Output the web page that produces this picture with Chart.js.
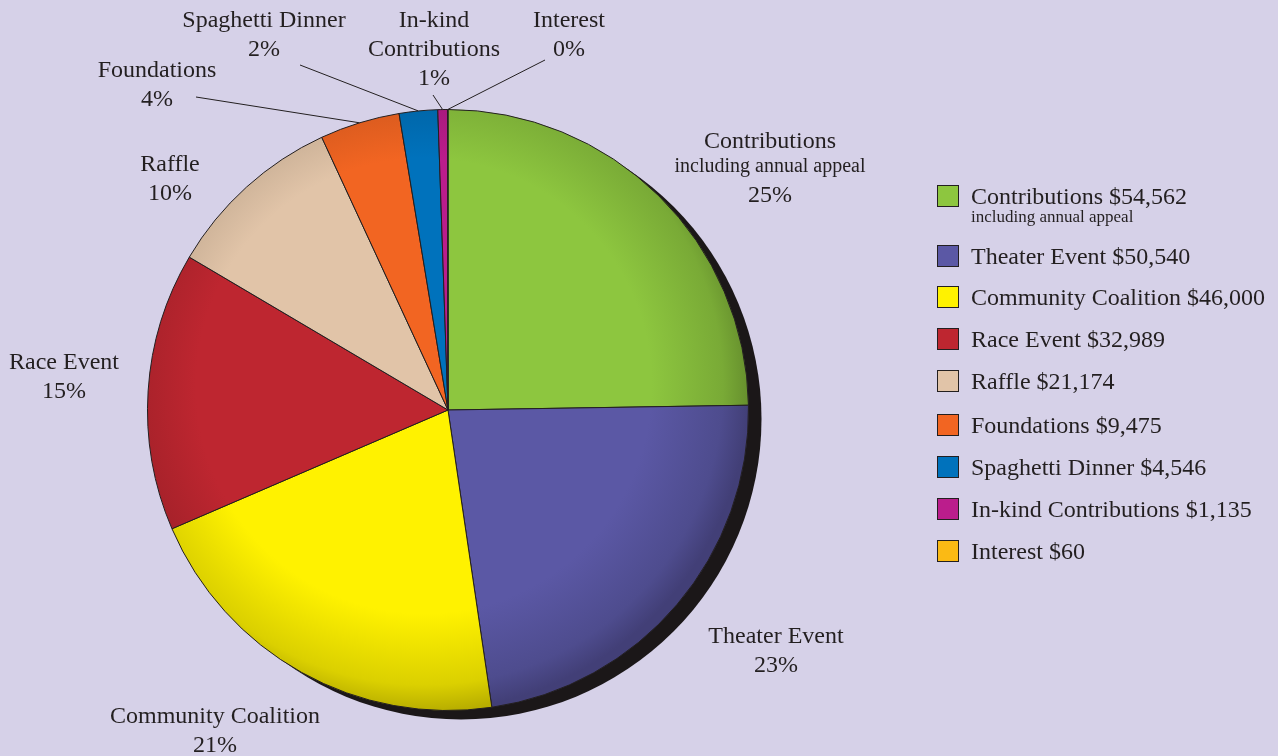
<!DOCTYPE html>
<html>
<head>
<meta charset="utf-8">
<script src="https://cdn.jsdelivr.net/npm/chart.js@4.4.1/dist/chart.umd.min.js"></script>
<style>
  html, body { margin: 0; padding: 0; background: #d6d1e8; }
  #wrap { position: relative; width: 1278px; height: 756px; overflow: hidden; }
  #chart { position: absolute; left: 0; top: 0; }
  #legend { position: absolute; left: 0; top: 0; font-family: "Liberation Serif", "Times New Roman", serif; color: #231f20; }
  .row { position: absolute; left: 937px; white-space: nowrap; }
  .box { position: absolute; left: 0; top: -11px; width: 20px; height: 20px; border: 1.5px solid #231f20; }
  .txt { position: absolute; left: 34px; top: -14px; font-size: 24px; line-height: 28px; }
  .sub { position: absolute; left: 34px; top: 11px; font-size: 17px; line-height: 20px; }
</style>
</head>
<body>
<div id="wrap">
  <canvas id="chart" width="1278" height="756"></canvas>
  <div id="legend"></div>
</div>
<script>
// data
const categories = ['Contributions', 'Theater Event', 'Community Coalition', 'Race Event', 'Raffle',
  'Foundations', 'Spaghetti Dinner', 'In-kind Contributions', 'Interest'];
const amounts = [54562, 50540, 46000, 32989, 21174, 9475, 4546, 1135, 60];
const amountLabels = ['$54,562', '$50,540', '$46,000', '$32,989', '$21,174', '$9,475', '$4,546', '$1,135', '$60'];
const percentLabels = ['25%', '23%', '21%', '15%', '10%', '4%', '2%', '1%', '0%'];
const colors = ['#8dc63f', '#5b58a5', '#fff200', '#be2630', '#e1c4a8', '#f26522', '#0072bc', '#bb1d8c', '#fbba14'];

// label text lines around the pie (first line center x,y; small = subtitle line)
const pieLabels = [
  { x: 770, y: 142, lines: ['Contributions', {small: 'including annual appeal'}, '25%'] },
  { x: 776, y: 637, lines: ['Theater Event', '23%'] },
  { x: 215, y: 717, lines: ['Community Coalition', '21%'] },
  { x: 64, y: 363, lines: ['Race Event', '15%'] },
  { x: 170, y: 165, lines: ['Raffle', '10%'] },
  { x: 157, y: 71, lines: ['Foundations', '4%'], leader: [196, 97] },
  { x: 264, y: 21, lines: ['Spaghetti Dinner', '2%'], leader: [300, 65] },
  { x: 434, y: 21, lines: ['In-kind', 'Contributions', '1%'], leader: [433, 95] },
  { x: 569, y: 21, lines: ['Interest', '0%'], leader: [545, 60] }
];

const FONT = '"Liberation Serif", "Times New Roman", serif';
const INK = '#231f20';

function shade(hex, f) {
  const n = parseInt(hex.slice(1), 16);
  const r = Math.round(((n >> 16) & 255) * f);
  const g = Math.round(((n >> 8) & 255) * f);
  const b = Math.round((n & 255) * f);
  return 'rgb(' + r + ',' + g + ',' + b + ')';
}

// Slice fill: flat colour with darker rim, heavier toward the lower right
function sliceFill(context) {
  const chart = context.chart;
  const area = chart.chartArea;
  const base = colors[context.dataIndex];
  if (!area) return base;
  const cx = (area.left + area.right) / 2;
  const cy = (area.top + area.bottom) / 2;
  const r = Math.min(area.right - area.left, area.bottom - area.top) / 2;
  const g = chart.ctx.createRadialGradient(cx - r * 0.08, cy - r * 0.08, 0, cx - r * 0.08, cy - r * 0.08, r * 1.08);
  g.addColorStop(0, base);
  g.addColorStop(0.7, base);
  g.addColorStop(0.92, shade(base, 0.86));
  g.addColorStop(1, shade(base, 0.72));
  return g;
}

// black drop shadow behind the pie
const shadowPlugin = {
  id: 'pieShadow',
  beforeDatasetsDraw(chart) {
    const arc = chart.getDatasetMeta(0).data[0];
    if (!arc) return;
    const ctx = chart.ctx;
    ctx.save();
    ctx.fillStyle = '#1b1718';
    ctx.beginPath();
    ctx.arc(arc.x + 13, arc.y + 9, arc.outerRadius, 0, Math.PI * 2);
    ctx.fill();
    ctx.restore();
  }
};

// outside labels + leader lines
const labelPlugin = {
  id: 'pieLabels',
  afterDatasetsDraw(chart) {
    const ctx = chart.ctx;
    const arcs = chart.getDatasetMeta(0).data;
    ctx.save();
    ctx.fillStyle = INK;
    ctx.textAlign = 'center';
    ctx.textBaseline = 'middle';
    pieLabels.forEach((lab, i) => {
      let y = lab.y;
      lab.lines.forEach((ln, j) => {
        if (typeof ln === 'object') {
          ctx.font = '20px ' + FONT;
          ctx.fillText(ln.small, lab.x, y - 4);
          y += 25;
        } else {
          ctx.font = '24px ' + FONT;
          ctx.fillText(ln, lab.x, y);
          y += 29;
        }
      });
      if (lab.leader && arcs[i]) {
        const a = arcs[i];
        const mid = (a.startAngle + a.endAngle) / 2;
        ctx.strokeStyle = INK;
        ctx.lineWidth = 1;
        ctx.beginPath();
        ctx.moveTo(lab.leader[0], lab.leader[1]);
        ctx.lineTo(a.x + Math.cos(mid) * a.outerRadius, a.y + Math.sin(mid) * a.outerRadius);
        ctx.stroke();
      }
    });
    ctx.restore();
  }
};

new Chart(document.getElementById('chart'), {
  type: 'pie',
  data: {
    labels: categories,
    datasets: [{
      data: amounts,
      backgroundColor: sliceFill,
      borderColor: INK,
      borderWidth: 1
    }]
  },
  options: {
    responsive: false,
    animation: false,
    layout: { padding: { left: 147, right: 529, top: 109, bottom: 45 } },
    plugins: {
      legend: { display: false },
      tooltip: { enabled: false }
    }
  },
  plugins: [shadowPlugin, labelPlugin]
});

// legend on the right
const legend = document.getElementById('legend');
const rowY = [196, 256, 297, 339, 381, 425, 467, 509, 551];
categories.forEach((c, i) => {
  const row = document.createElement('div');
  row.className = 'row';
  row.style.top = rowY[i] + 'px';
  row.innerHTML = '<div class="box" style="background:' + colors[i] + '"></div>' +
    '<div class="txt">' + c + ' ' + amountLabels[i] + '</div>' +
    (i === 0 ? '<div class="sub">including annual appeal</div>' : '');
  legend.appendChild(row);
});
</script>
</body>
</html>
